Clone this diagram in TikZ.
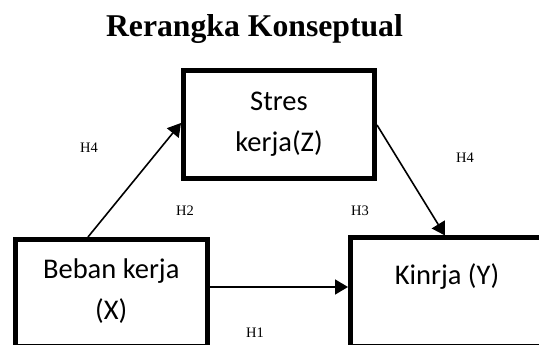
\documentclass[tikz,border=0pt]{standalone}
\usepackage{fontspec}
\setmainfont{Liberation Serif}
\newfontfamily\boxfont{Carlito}
\usetikzlibrary{arrows.meta}
\begin{document}
\begin{tikzpicture}[x=1pt,y=1pt,
  varbox/.style={draw=black, line width=5pt, inner sep=0pt},
  boxtext/.style={font=\boxfont\fontsize{28.5}{34}\selectfont, anchor=base, inner sep=0pt},
  hlabel/.style={font=\fontsize{14.5}{17}\selectfont, inner sep=0pt},
  link/.style={line width=1.6pt, -{Triangle[length=13pt,width=15pt]}}]
\useasboundingbox (0,0) rectangle (539,345);
\clip (0,0) rectangle (539,345);
\node[font=\bfseries\fontsize{31.7}{38}\selectfont, anchor=base, inner sep=0pt] (title) at (254.5,308) {Rerangka Konseptual};
\node[varbox, minimum width=191pt, minimum height=108pt] (stres) at (279,220.5) {};
\node[varbox, minimum width=191.5pt, minimum height=107.5pt] (beban) at (111.25,51.75) {};
\node[varbox, minimum width=193pt, minimum height=109pt] (kinrja) at (447,52.5) {};
\node[boxtext] (stres1) at (279,234) {Stres};
\node[boxtext] (stres2) at (279,193) {kerja(Z)};
\node[boxtext] (beban1) at (111.25,66) {Beban kerja};
\node[boxtext] (beban2) at (111.25,25) {(X)};
\node[boxtext] (kinrja1) at (447,60) {Kinrja (Y)};
\coordinate (h1y) at (0,58);
\coordinate (lx) at (88,0);
\coordinate (ly) at (0,222);
\coordinate (rx) at (445,0);
\coordinate (ry) at (0,220);
\draw[link] (beban.east |- h1y) -- (kinrja.west |- h1y);
\draw[link] (lx |- beban.north) -- (stres.west |- ly);
\draw[link] (stres.east |- ry) -- (rx |- kinrja.north);
\node[hlabel] (h4a) at (89,197) {H4};
\node[hlabel] (h2) at (185,134) {H2};
\node[hlabel] (h3) at (360,134) {H3};
\node[hlabel] (h4b) at (465,187) {H4};
\node[hlabel] (h1) at (255,12) {H1};
\end{tikzpicture}
\end{document}
